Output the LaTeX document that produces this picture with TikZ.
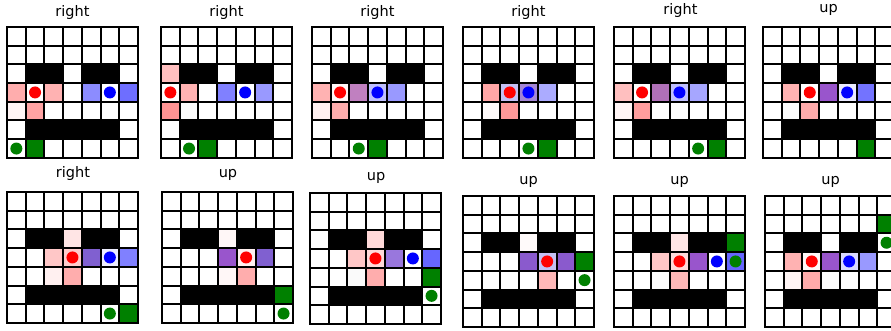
\documentclass[tikz,border=0pt]{standalone}
\usepackage{fontspec}
\usepackage{xcolor}
\usepackage{tikz}
\usetikzlibrary{positioning,calc}
\newfontfamily\titlefont{DejaVu Sans}
\definecolor{goal}{HTML}{008000}
\definecolor{agentred}{HTML}{ff0000}
\definecolor{agentblue}{HTML}{0000ff}
\definecolor{mauve}{HTML}{c080c0}
\definecolor{plumA}{HTML}{b070b8}
\definecolor{plumB}{HTML}{9955cc}
\definecolor{plumC}{HTML}{8060d0}
\definecolor{plumD}{HTML}{8a5acd}
\definecolor{plumE}{HTML}{9977dd}
\definecolor{lavA}{HTML}{c4c0f4}
\definecolor{lavB}{HTML}{a486d6}

\tikzset{
  mazecells/.style={x=18.7pt,y=-18.7pt},
  gridline/.style={line width=2pt,line cap=rect},
  paneltitle/.style={font=\titlefont\fontsize{14.5}{16}\selectfont,
                     anchor=base,inner sep=0pt}
}
% walls and grid of one 7x7 maze
\newcommand{\mazebase}{%
  \fill[black] (1,2) rectangle (3,3) (4,2) rectangle (6,3) (1,5) rectangle (6,6);
  \foreach \k in {0,...,7} {
    \draw[gridline] (\k,0) -- (\k,7);
    \draw[gridline] (0,\k) -- (7,\k);
  }
}
\newcommand{\tint}[3]{\fill[#1] (#2,#3) rectangle ++(1,1);}
\newcommand{\agent}[3]{\fill[#1] (#2+0.5,#3+0.5) circle (6pt);}

\begin{document}
\begin{tikzpicture}
    \useasboundingbox (0,0) rectangle (891pt,-331pt);
    \clip (0,0) rectangle (891pt,-331pt);

    % top row
    \node[paneltitle] (t1) at (72.5pt,-17pt) {right};
    \begin{scope}[mazecells,shift={(7pt,-27pt)}]
        \tint{red!32}{0}{3} \tint{red!30}{2}{3} \tint{agentblue!45}{4}{3}
        \tint{agentblue!57}{6}{3} \tint{red!4}{0}{4} \tint{red!36}{1}{4}
        \tint{goal}{1}{6}
        \mazebase
        \agent{agentred}{1}{3} \agent{agentblue}{5}{3} \agent{goal}{0}{6}
    \end{scope}

    \node[paneltitle] (t2) at (226.5pt,-17pt) {right};
    \begin{scope}[mazecells,shift={(161pt,-27pt)}]
        \tint{red!25}{0}{2} \tint{red!30}{1}{3} \tint{agentblue!50}{3}{3}
        \tint{agentblue!40}{5}{3} \tint{red!42}{0}{4} \tint{black!1}{1}{4}
        \tint{goal}{2}{6}
        \mazebase
        \agent{agentred}{0}{3} \agent{agentblue}{4}{3} \agent{goal}{1}{6}
    \end{scope}

    \node[paneltitle] (t3) at (377.5pt,-17pt) {right};
    \begin{scope}[mazecells,shift={(312pt,-27pt)}]
        \tint{red!30}{0}{3} \tint{red!3}{1}{3} \tint{mauve}{2}{3}
        \tint{agentblue!25}{3}{3} \tint{agentblue!40}{4}{3}
        \tint{red!6}{0}{4} \tint{red!32}{1}{4}
        \tint{goal}{3}{6}
        \mazebase
        \agent{agentred}{1}{3} \agent{agentblue}{3}{3} \agent{goal}{2}{6}
    \end{scope}

    \node[paneltitle] (t4) at (528.5pt,-17pt) {right};
    \begin{scope}[mazecells,shift={(463pt,-27pt)}]
        \tint{red!35}{1}{3} \tint{lavA}{2}{3} \tint{lavB}{3}{3}
        \tint{agentblue!33}{4}{3} \tint{red!2}{1}{4} \tint{red!40}{2}{4}
        \tint{goal}{4}{6}
        \mazebase
        \agent{agentred}{2}{3} \agent{agentblue}{3}{3} \agent{goal}{3}{6}
    \end{scope}

    \node[paneltitle] (t5) at (680.5pt,-15pt) {right};
    \begin{scope}[mazecells,shift={(614pt,-27pt)}]
        \tint{red!25}{0}{3} \tint{plumA}{2}{3} \tint{agentblue!25}{3}{3}
        \tint{agentblue!35}{4}{3} \tint{red!4}{0}{4} \tint{red!38}{1}{4}
        \tint{goal}{5}{6}
        \mazebase
        \agent{agentred}{1}{3} \agent{agentblue}{3}{3} \agent{goal}{4}{6}
    \end{scope}

    \node[paneltitle] (t6) at (828.5pt,-13pt) {up};
    \begin{scope}[mazecells,shift={(763pt,-27pt)}]
        \tint{red!30}{1}{3} \tint{plumB}{3}{3} \tint{agentblue!8}{4}{3}
        \tint{agentblue!55}{5}{3} \tint{black!1}{1}{4} \tint{red!33}{2}{4}
        \tint{goal}{5}{6}
        \mazebase
        \agent{agentred}{2}{3} \agent{agentblue}{4}{3}
    \end{scope}

    % bottom row
    \node[paneltitle] (t7) at (73pt,-178pt) {right};
    \begin{scope}[mazecells,shift={(7pt,-192pt)}]
        \tint{red!10}{3}{2} \tint{red!22}{2}{3} \tint{red!20}{3}{3}
        \tint{plumC}{4}{3} \tint{agentblue!7}{5}{3} \tint{agentblue!50}{6}{3}
        \tint{red!6}{2}{4} \tint{red!32}{3}{4}
        \tint{goal}{6}{6}
        \mazebase
        \agent{agentred}{3}{3} \agent{agentblue}{5}{3} \agent{goal}{5}{6}
    \end{scope}

    \node[paneltitle] (t8) at (228pt,-178pt) {up};
    \begin{scope}[mazecells,shift={(162pt,-192pt)}]
        \tint{red!3}{3}{2} \tint{plumB}{3}{3} \tint{red!6}{4}{3}
        \tint{plumC}{5}{3} \tint{red!3}{3}{4} \tint{red!32}{4}{4}
        \tint{goal}{6}{5}
        \mazebase
        \agent{agentred}{4}{3} \agent{goal}{6}{6}
    \end{scope}

    \node[paneltitle] (t9) at (376pt,-181pt) {up};
    \begin{scope}[mazecells,shift={(310pt,-193pt)}]
        \tint{red!15}{3}{2} \tint{red!22}{2}{3} \tint{red!15}{3}{3}
        \tint{plumE}{4}{3} \tint{agentblue!60}{6}{3} \tint{black!2}{2}{4}
        \tint{red!32}{3}{4}
        \tint{goal}{6}{4}
        \mazebase
        \agent{agentred}{3}{3} \agent{agentblue}{5}{3} \agent{goal}{6}{5}
    \end{scope}

    \node[paneltitle] (t10) at (528.5pt,-185pt) {up};
    \begin{scope}[mazecells,shift={(463pt,-196pt)}]
        \tint{red!2}{3}{2} \tint{plumD}{3}{3} \tint{lavA}{4}{3}
        \tint{plumD}{5}{3} \tint{red!28}{4}{4}
        \tint{goal}{6}{3}
        \mazebase
        \agent{agentred}{4}{3} \agent{goal}{6}{4}
    \end{scope}

    \node[paneltitle] (t11) at (679.5pt,-185pt) {up};
    \begin{scope}[mazecells,shift={(614pt,-196pt)}]
        \tint{red!10}{3}{2} \tint{red!22}{2}{3} \tint{red!15}{3}{3}
        \tint{plumB}{4}{3} \tint{agentblue!60}{6}{3} \tint{black!1}{2}{4}
        \tint{red!28}{3}{4}
        \tint{goal}{6}{2}
        \mazebase
        \agent{agentred}{3}{3} \agent{agentblue}{5}{3} \agent{goal}{6}{3}
    \end{scope}

    \node[paneltitle] (t12) at (830.5pt,-185pt) {up};
    \begin{scope}[mazecells,shift={(765pt,-196pt)}]
        \tint{red!30}{1}{3} \tint{red!3}{2}{3} \tint{plumB}{3}{3}
        \tint{agentblue!15}{4}{3} \tint{agentblue!40}{5}{3}
        \tint{red!4}{1}{4} \tint{red!33}{2}{4} \tint{black!1}{3}{4}
        \tint{goal}{6}{1}
        \mazebase
        \agent{agentred}{2}{3} \agent{agentblue}{4}{3} \agent{goal}{6}{2}
    \end{scope}
\end{tikzpicture}
\end{document}
